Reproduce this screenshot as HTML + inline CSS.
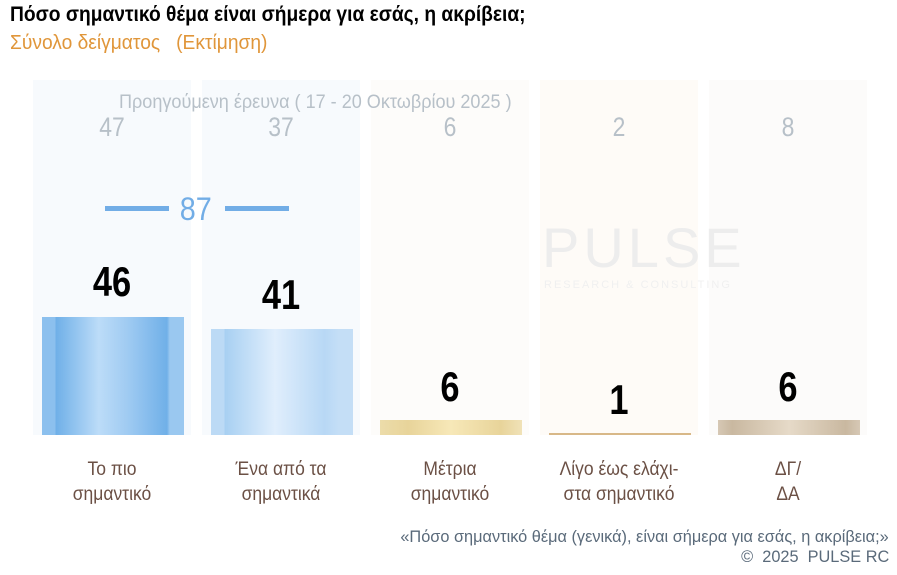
<!DOCTYPE html>
<html><head><meta charset="utf-8"><style>
body{margin:0;width:897px;height:575px;background:#fff;position:relative;overflow:hidden;font-family:"Liberation Sans",sans-serif}
.a{position:absolute;white-space:nowrap}
.col{position:absolute;top:80px;height:355px;width:158px}
.bar{position:absolute;width:142px}
.big{position:absolute;font-weight:bold;font-size:42px;color:#000;width:158px;text-align:center;transform:scaleX(0.82)}
.prev{position:absolute;top:112px;font-size:27px;color:#b7c0c8;width:158px;text-align:center;transform:scaleX(0.85)}
.lab{position:absolute;top:457px;width:158px;text-align:center;font-size:19px;color:#6b5045;line-height:25px;transform:scaleX(0.92)}
</style></head><body>
<div class="a" style="left:10px;top:3px;font-size:21px;font-weight:bold;color:#000;transform:scaleX(0.915);transform-origin:left">Πόσο σημαντικό θέμα είναι σήμερα για εσάς, η ακρίβεια;</div>
<div class="a" style="left:10px;top:32px;font-size:20px;color:#e0963a;transform:scaleX(0.96);transform-origin:left">Σύνολο δείγματος &nbsp;&nbsp;(Εκτίμηση)</div>

<div class="col" style="left:33px;background:#f7fafd"></div>
<div class="col" style="left:202px;background:#f7fafd"></div>
<div class="col" style="left:371px;background:#fdfcfa"></div>
<div class="col" style="left:540px;background:#fefbf7"></div>
<div class="col" style="left:709px;background:#fcfbfa"></div>

<div class="a" style="left:119px;top:92px;font-size:19px;color:#b7c0c8;transform:scaleX(0.95);transform-origin:left">Προηγούμενη έρευνα ( 17 - 20 Οκτωβρίου 2025 )</div>
<div class="prev" style="left:33px">47</div>
<div class="prev" style="left:202px">37</div>
<div class="prev" style="left:371px">6</div>
<div class="prev" style="left:540px">2</div>
<div class="prev" style="left:709px">8</div>

<div class="a" style="left:105px;top:206px;width:64px;height:5px;background:#72ade6"></div>
<div class="a" style="left:178px;top:191px;font-size:32px;color:#72ade6;transform:scaleX(0.9)">87</div>
<div class="a" style="left:225px;top:206px;width:64px;height:5px;background:#72ade6"></div>

<div class="a" style="left:542px;top:215px;font-size:56px;color:#ededed;letter-spacing:4px">PULSE</div>
<div class="a" style="left:544px;top:279px;font-size:11px;color:#f0f0f0;letter-spacing:2px">RESEARCH &amp; CONSULTING</div>

<div class="bar" style="left:42px;top:317px;height:118px;background:linear-gradient(90deg,#8cc0ee 0,#8cc0ee 9%,#70b0e8 10%,#bcdcf8 40%,#a0cbf2 60%,#70b0e8 88%,#9ac8f0 90%)"></div>
<div class="bar" style="left:211px;top:329px;height:106px;background:linear-gradient(90deg,#bcdaf5 0,#bcdaf5 9%,#a8d0f2 10%,#e0eefc 45%,#b8d8f5 80%,#c4def6 90%)"></div>
<div class="bar" style="left:380px;top:420px;height:15px;background:linear-gradient(90deg,#ecdcaa,#e8d49a 20%,#f7e8b8 50%,#e8d49a 85%,#f0e2b8)"></div>
<div class="bar" style="left:549px;top:433px;height:2px;background:#d8b888"></div>
<div class="bar" style="left:718px;top:420px;height:15px;background:linear-gradient(90deg,#d6c8b5,#c9b8a0 10%,#e6dac8 50%,#c9b8a0 90%,#d6c8b5)"></div>

<div class="big" style="left:33px;top:258px">46</div>
<div class="big" style="left:202px;top:271px">41</div>
<div class="big" style="left:371px;top:363px">6</div>
<div class="big" style="left:540px;top:376px">1</div>
<div class="big" style="left:709px;top:363px">6</div>

<div class="lab" style="left:33px">Το πιο<br>σημαντικό</div>
<div class="lab" style="left:202px">Ένα από τα<br>σημαντικά</div>
<div class="lab" style="left:371px">Μέτρια<br>σημαντικό</div>
<div class="lab" style="left:540px">Λίγο έως ελάχι-<br>στα σημαντικό</div>
<div class="lab" style="left:709px">ΔΓ/<br>ΔΑ</div>

<div class="a" style="right:8px;top:527px;font-size:17px;color:#5a6a7a;transform:scaleX(0.96);transform-origin:right">«Πόσο σημαντικό θέμα (γενικά), είναι σήμερα για εσάς, η ακρίβεια;»</div>
<div class="a" style="right:8px;top:547px;font-size:17px;color:#5a6a7a;transform:scaleX(0.96);transform-origin:right">©&nbsp; 2025&nbsp; PULSE RC</div>
</body></html>
